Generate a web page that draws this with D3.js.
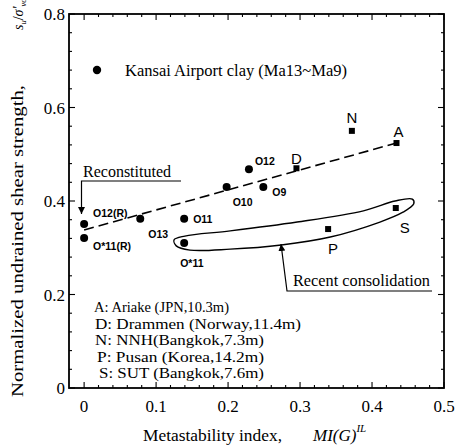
<!DOCTYPE html>
<html>
<head>
<meta charset="utf-8">
<script src="https://cdn.jsdelivr.net/npm/d3@7"></script>
<style>
  html, body { margin: 0; padding: 0; background: #fff; }
  svg { display: block; }
  text { font-family: "Liberation Serif", "Times New Roman", serif; fill: #000; }
  .lbl { font-family: "Liberation Sans", Arial, sans-serif; }
</style>
</head>
<body>
<svg id="chart" width="463" height="447"></svg>
<script>
// Kansai Airport clay samples (filled circles)
const kansaiNames = ["O12(R)", "O*11(R)", "O13", "O11", "O*11", "O10", "O12", "O9"];
const kansaiMI    = [0.000, 0.000, 0.078, 0.139, 0.139, 0.198, 0.229, 0.249];
const kansaiSu    = [0.351, 0.321, 0.362, 0.362, 0.310, 0.430, 0.468, 0.430];

// Other sites (filled squares)
const siteCodes = ["A", "D", "N", "P", "S"];
const siteMI    = [0.434, 0.295, 0.372, 0.339, 0.433];
const siteSu    = [0.524, 0.470, 0.550, 0.340, 0.385];
const siteNotes = ["A: Ariake (JPN,10.3m)", "D: Drammen (Norway,11.4m)",
                   "N: NNH(Bangkok,7.3m)", "P: Pusan (Korea,14.2m)", "S: SUT (Bangkok,7.6m)"];

// Trend line of the reconstituted / aged samples
const trendMI = [0.000, 0.434];
const trendSu = [0.338, 0.524];

// Outline around the recently consolidated samples
const loopMI = [0.125, 0.140, 0.203, 0.296, 0.388, 0.432, 0.456, 0.458, 0.443, 0.411, 0.342, 0.274, 0.203, 0.147, 0.128];
const loopSu = [0.317, 0.325, 0.336, 0.355, 0.379, 0.400, 0.404, 0.394, 0.376, 0.355, 0.323, 0.306, 0.297, 0.295, 0.304];

// Axis ticks
const xTicks = [0, 0.1, 0.2, 0.3, 0.4, 0.5];
const xTickLabels = ["0", "0.1", "0.2", "0.3", "0.4", "0.5"];
const yTicks = [0, 0.2, 0.4, 0.6, 0.8];
const yTickLabels = ["0", "0.2", "0.4", "0.6", "0.8"];

const svg = d3.select("#chart");
const L = 69, R = 444, T = 14, B = 388;
const x = d3.scaleLinear().domain([-0.021, 0.5]).range([L, R]);
const y = d3.scaleLinear().domain([0, 0.8]).range([B, T]);

// Minor / major inward ticks on all four sides
const xMinor = d3.range(0, 0.5001, 0.02);
const yMinor = d3.range(0, 0.8001, 0.04);
const tk = svg.append("g").attr("stroke", "#000").attr("stroke-width", 1.1);
xMinor.forEach(v => {
  const major = xTicks.some(t => Math.abs(t - v) < 1e-6);
  const len = major ? 6 : 3;
  tk.append("line").attr("x1", x(v)).attr("x2", x(v)).attr("y1", B).attr("y2", B - len);
  tk.append("line").attr("x1", x(v)).attr("x2", x(v)).attr("y1", T).attr("y2", T + len);
});
yMinor.forEach(v => {
  const major = yTicks.some(t => Math.abs(t - v) < 1e-6);
  const len = major ? 6 : 3;
  tk.append("line").attr("y1", y(v)).attr("y2", y(v)).attr("x1", L).attr("x2", L + len);
  tk.append("line").attr("y1", y(v)).attr("y2", y(v)).attr("x1", R).attr("x2", R - len);
});

// Frame
svg.append("rect").attr("x", L).attr("y", T).attr("width", R - L).attr("height", B - T)
  .attr("fill", "none").attr("stroke", "#000").attr("stroke-width", 1.8);

// Tick labels
svg.append("g").selectAll("text").data(xTicks).join("text")
  .attr("x", d => x(d)).attr("y", B + 24).attr("text-anchor", "middle")
  .attr("font-size", 17).text((d, i) => xTickLabels[i]);
svg.append("g").selectAll("text").data(yTicks).join("text")
  .attr("x", L - 4).attr("y", d => y(d) + 6).attr("text-anchor", "end")
  .attr("font-size", 17).text((d, i) => yTickLabels[i]);

// Axis titles
const xt = svg.append("text").attr("x", 143).attr("y", 441).attr("font-size", 17);
xt.append("tspan").attr("textLength", 139).attr("lengthAdjust", "spacingAndGlyphs").text("Metastability index,");
xt.append("tspan").attr("x", 313).attr("font-style", "italic").text("MI(G)");
xt.append("tspan").attr("font-style", "italic").attr("font-size", 11).attr("dy", -9).text("IL");

svg.append("text").attr("transform", "translate(23,397) rotate(-90)").attr("font-size", 17)
  .attr("textLength", 312).attr("lengthAdjust", "spacingAndGlyphs")
  .text("Normalized undrained shear strength,");
const yt = svg.append("text").attr("transform", "translate(23,30) rotate(-90)").attr("font-size", 14);
yt.append("tspan").attr("font-style", "italic").text("s");
yt.append("tspan").attr("font-style", "italic").attr("font-size", 8.5).attr("dy", 3).text("u");
yt.append("tspan").attr("dy", -3).text("/");
yt.append("tspan").attr("font-style", "italic").text("σ'");
yt.append("tspan").attr("font-style", "italic").attr("font-size", 8.5).attr("dy", 3).text("vc");

// Trend line
const line = d3.line().x(d => x(d[0])).y(d => y(d[1]));
svg.append("path").datum(d3.zip(trendMI, trendSu)).attr("d", line)
  .attr("fill", "none").attr("stroke", "#000").attr("stroke-width", 1.6)
  .attr("stroke-dasharray", "10,5");

// Recent consolidation outline
const loopLine = d3.line().x(d => x(d[0])).y(d => y(d[1])).curve(d3.curveCatmullRomClosed.alpha(0.5));
svg.append("path").datum(d3.zip(loopMI, loopSu)).attr("d", loopLine)
  .attr("fill", "none").attr("stroke", "#000").attr("stroke-width", 1.4);

// Kansai points
svg.append("g").selectAll("circle").data(d3.range(kansaiMI.length)).join("circle")
  .attr("cx", i => x(kansaiMI[i])).attr("cy", i => y(kansaiSu[i])).attr("r", 4).attr("fill", "#000");

// Site points
svg.append("g").selectAll("rect").data(d3.range(siteMI.length)).join("rect")
  .attr("x", i => x(siteMI[i]) - 3).attr("y", i => y(siteSu[i]) - 3)
  .attr("width", 6).attr("height", 6).attr("fill", "#000");

// Kansai point labels (offsets from each point)
const kOff = [[9, -7], [9, 12], [8, 19], [9, 4], [-4, 24], [6, 19], [6, -4], [9, 9]];
svg.append("g").selectAll("text").data(d3.range(kansaiNames.length)).join("text")
  .attr("class", "lbl").attr("font-size", 10.5).attr("font-weight", "bold")
  .attr("x", i => x(kansaiMI[i]) + kOff[i][0]).attr("y", i => y(kansaiSu[i]) + kOff[i][1])
  .text(i => kansaiNames[i]);

// Site letters
const sOff = [[2, -6], [0, -4], [0, -8], [5, 25], [9, 25]];
svg.append("g").selectAll("text").data(d3.range(siteCodes.length)).join("text")
  .attr("class", "lbl").attr("font-size", 15).attr("text-anchor", "middle")
  .attr("x", i => x(siteMI[i]) + sOff[i][0]).attr("y", i => y(siteSu[i]) + sOff[i][1])
  .text(i => siteCodes[i]);

// Legend
svg.append("circle").attr("cx", 97).attr("cy", 70).attr("r", 4.2).attr("fill", "#000");
svg.append("text").attr("x", 125).attr("y", 76).attr("font-size", 16.5).text("Kansai Airport clay (Ma13~Ma9)");

// Site notes
const noteX = [94, 95, 95, 97, 99];
const noteW = [135, 206, 169, 167, 165];
svg.append("g").selectAll("text").data(siteNotes).join("text")
  .attr("x", (d, i) => noteX[i]).attr("y", (d, i) => 312 + i * 16.5)
  .attr("font-size", 14.5).attr("textLength", (d, i) => noteW[i])
  .attr("lengthAdjust", "spacingAndGlyphs").text(d => d);

// Arrow markers
svg.append("defs").append("marker").attr("id", "arr")
  .attr("viewBox", "0 0 10 10").attr("refX", 10).attr("refY", 5)
  .attr("markerWidth", 7).attr("markerHeight", 7).attr("orient", "auto-start-reverse")
  .attr("markerUnits", "userSpaceOnUse")
  .append("path").attr("d", "M0,0 L10,5 L0,10 Z").attr("fill", "#000");

// "Reconstituted" callout
svg.append("text").attr("x", 83).attr("y", 177).attr("font-size", 16).text("Reconstituted");
svg.append("path").attr("d", "M181,181 L81.5,181 L81.5,214")
  .attr("fill", "none").attr("stroke", "#000").attr("stroke-width", 1.2).attr("marker-end", "url(#arr)");

// "Recent consolidation" callout
svg.append("text").attr("x", 293).attr("y", 286).attr("font-size", 16.3).text("Recent consolidation");
svg.append("path").attr("d", "M432,291 L287,291 L281,244")
  .attr("fill", "none").attr("stroke", "#000").attr("stroke-width", 1.2).attr("marker-end", "url(#arr)");
</script>
</body>
</html>
